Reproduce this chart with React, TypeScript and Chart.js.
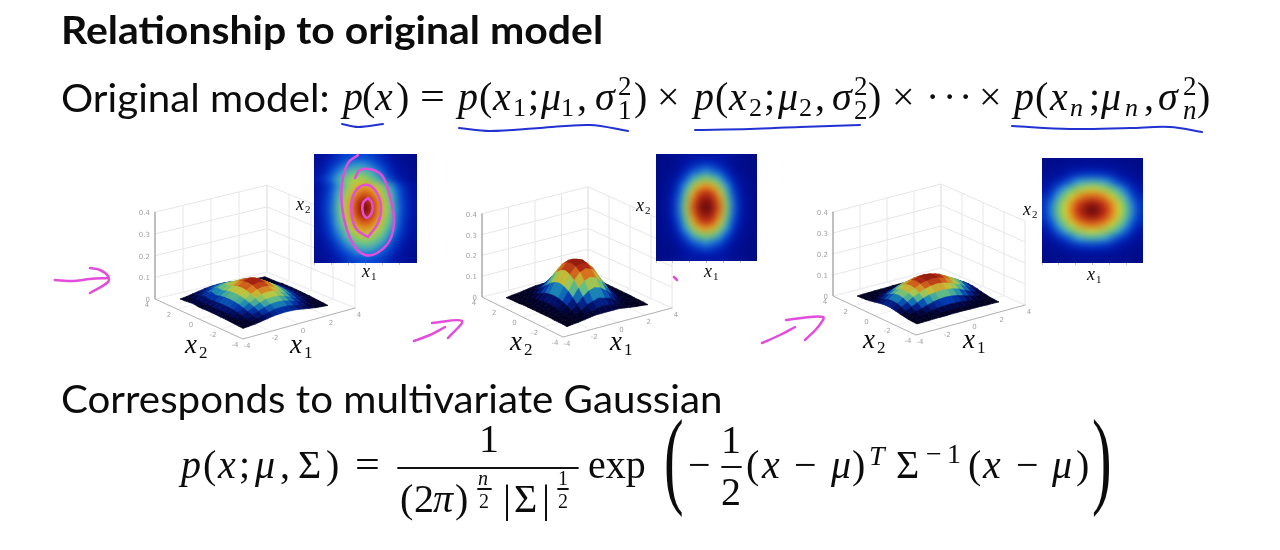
import React, { useEffect, useRef } from "react";
import { Chart, registerables } from "chart.js";
Chart.register(...registerables);

// ---------- values ----------
const Z_TICKS = [0, 0.1, 0.2, 0.3, 0.4];
const AXIS_TICKS = [-4, -2, 0, 2, 4];
const GRID_POS = [-2.8, -2.4, -2, -1.6, -1.2, -0.8, -0.4, 0, 0.4, 0.8, 1.2, 1.6, 2, 2.4, 2.8];

const DENSITY_A = [
  [8, 10, 14, 18, 22, 24, 25, 24, 22, 18, 14, 10, 8, 6, 5],
  [9, 13, 18, 24, 29, 34, 35, 34, 29, 24, 18, 13, 9, 7, 5],
  [11, 15, 23, 31, 39, 45, 47, 45, 39, 31, 23, 15, 11, 8, 6],
  [13, 20, 28, 39, 49, 56, 58, 56, 49, 39, 28, 20, 13, 9, 7],
  [10, 15, 23, 34, 47, 58, 67, 70, 67, 58, 47, 34, 23, 15, 10],
  [10, 16, 26, 39, 53, 66, 77, 81, 77, 66, 53, 39, 26, 16, 10],
  [11, 18, 27, 42, 57, 72, 85, 91, 85, 72, 57, 42, 27, 18, 11],
  [11, 18, 28, 43, 58, 74, 88, 99, 88, 74, 58, 43, 28, 18, 11],
  [11, 18, 27, 42, 57, 72, 85, 91, 85, 72, 57, 42, 27, 18, 11],
  [10, 16, 26, 39, 53, 66, 77, 81, 77, 66, 53, 39, 26, 16, 10],
  [10, 15, 23, 34, 47, 58, 67, 70, 67, 58, 47, 34, 23, 15, 10],
  [9, 13, 20, 28, 39, 49, 56, 58, 56, 49, 39, 28, 20, 13, 9],
  [8, 11, 15, 23, 31, 39, 45, 47, 45, 39, 31, 23, 15, 11, 8],
  [7, 9, 13, 18, 24, 29, 34, 35, 34, 29, 24, 18, 13, 9, 7],
  [6, 8, 10, 14, 18, 22, 24, 25, 24, 22, 18, 14, 10, 8, 6],
];
const DENSITY_B = [
  [3, 5, 6, 8, 10, 12, 12, 12, 12, 12, 10, 8, 6, 5, 3],
  [4, 4, 5, 8, 12, 15, 19, 21, 19, 15, 12, 8, 5, 4, 4],
  [4, 5, 7, 11, 17, 26, 30, 34, 30, 26, 17, 11, 7, 5, 4],
  [4, 6, 9, 15, 26, 39, 49, 53, 49, 39, 26, 15, 9, 6, 4],
  [5, 7, 11, 21, 36, 54, 67, 72, 67, 54, 36, 21, 11, 7, 5],
  [5, 7, 13, 26, 46, 67, 82, 87, 82, 67, 46, 26, 13, 7, 5],
  [5, 8, 15, 29, 52, 76, 90, 94, 90, 76, 52, 29, 15, 8, 5],
  [5, 8, 15, 30, 55, 80, 93, 99, 93, 80, 55, 30, 15, 8, 5],
  [5, 8, 15, 29, 52, 76, 90, 94, 90, 76, 52, 29, 15, 8, 5],
  [5, 7, 13, 26, 46, 67, 82, 87, 82, 67, 46, 26, 13, 7, 5],
  [5, 7, 11, 21, 36, 54, 67, 72, 67, 54, 36, 21, 11, 7, 5],
  [4, 6, 9, 15, 26, 39, 49, 53, 49, 39, 26, 15, 9, 6, 4],
  [4, 5, 7, 11, 17, 26, 30, 34, 30, 26, 17, 11, 7, 5, 4],
  [4, 4, 5, 8, 12, 15, 19, 21, 19, 15, 12, 8, 5, 4, 4],
  [3, 5, 6, 8, 10, 12, 12, 12, 12, 12, 10, 8, 6, 5, 3],
];
const DENSITY_C = [
  [4, 5, 5, 6, 6, 6, 7, 7, 7, 6, 6, 6, 5, 5, 4],
  [5, 6, 7, 8, 10, 11, 11, 12, 11, 11, 10, 8, 7, 6, 5],
  [6, 8, 10, 13, 17, 20, 22, 23, 22, 20, 17, 13, 10, 8, 6],
  [9, 12, 17, 23, 30, 37, 41, 43, 41, 37, 30, 23, 17, 12, 9],
  [12, 18, 28, 38, 49, 56, 59, 61, 59, 56, 49, 38, 28, 18, 12],
  [16, 25, 38, 52, 61, 71, 77, 79, 77, 71, 61, 52, 38, 25, 16],
  [19, 31, 47, 60, 72, 83, 89, 92, 89, 83, 72, 60, 47, 31, 19],
  [20, 33, 50, 62, 76, 87, 94, 99, 94, 87, 76, 62, 50, 33, 20],
  [19, 31, 47, 60, 72, 83, 89, 92, 89, 83, 72, 60, 47, 31, 19],
  [16, 25, 38, 52, 61, 71, 77, 79, 77, 71, 61, 52, 38, 25, 16],
  [12, 18, 28, 38, 49, 56, 59, 61, 59, 56, 49, 38, 28, 18, 12],
  [9, 12, 17, 23, 30, 37, 41, 43, 41, 37, 30, 23, 17, 12, 9],
  [6, 8, 10, 13, 17, 20, 22, 23, 22, 20, 17, 13, 10, 8, 6],
  [5, 6, 7, 8, 10, 11, 11, 12, 11, 11, 10, 8, 7, 6, 5],
  [4, 5, 5, 6, 6, 6, 7, 7, 7, 6, 6, 6, 5, 5, 4],
];

// pen strokes on the slide, in slide pixels
const UNDERLINES = [
  [[342, 124], [358, 127], [383, 124]],
  [[459, 128], [490, 131], [540, 128], [590, 125], [628, 131]],
  [[695, 130], [750, 129], [800, 127], [860, 125]],
  [[1012, 126], [1070, 129], [1130, 128], [1170, 127], [1202, 132]],
];
const PEN_STROKES = [
  [[55, 280], [73, 281], [90, 279], [108, 278]],
  [[90, 268], [100, 270], [108, 276], [108, 282], [90, 293]],
  [[414, 341], [430, 335], [445, 327]],
  [[432, 323], [462, 321], [448, 338]],
  [[762, 343], [780, 335], [795, 327]],
  [[786, 320], [823, 317], [818, 327], [805, 340]],
  [[674, 277], [677, 280]],
  [[358, 155], [348, 163], [342, 183], [342, 207], [347, 230], [355, 247], [365, 255], [377, 253], [390, 240], [394, 220], [390, 197], [383, 177], [373, 170], [360, 170], [355, 178]],
  [[368, 237], [357, 230], [352, 217], [352, 200], [358, 188], [368, 185], [377, 193], [381, 208], [378, 223], [368, 237]],
  [[368, 198], [363, 203], [363, 213], [367, 218], [372, 212], [372, 203], [368, 198]],
];

// ---------- layout ----------
const PLOTS = [
  { L: [155, 299], F: [243, 339], R: [355, 308], B: [267, 272], zPx: 217, sL: [180, 301], sF: [243, 330], sR: [328, 307], peak: 0.12, data: DENSITY_A },
  { L: [482, 297], F: [563, 337], R: [672, 308], B: [588, 270], zPx: 208, sL: [506, 299], sF: [567, 328], sR: [648, 306], peak: 0.21, data: DENSITY_B },
  { L: [833, 296], F: [916, 335], R: [1025, 305], B: [941, 268], zPx: 210, sL: [857, 297], sF: [917, 325], sR: [999, 303], peak: 0.12, data: DENSITY_C },
];
const HEATS = [
  { x: 314, y: 154, w: 103, h: 109, data: DENSITY_A },
  { x: 656, y: 154, w: 101, h: 107, data: DENSITY_B },
  { x: 1042, y: 158, w: 101, h: 105, data: DENSITY_C },
];

const HEAT_STOPS = [[0, 0, 8, 120], [0.12, 0, 20, 165], [0.25, 5, 75, 215], [0.37, 60, 165, 210], [0.5, 110, 200, 120], [0.62, 210, 210, 50], [0.75, 235, 130, 30], [0.87, 190, 40, 20], [1, 85, 5, 10]];
const SURF_STOPS = [[0, 0, 0, 20], [0.12, 0, 0, 45], [0.22, 0, 15, 105], [0.32, 0, 55, 175], [0.42, 25, 135, 180], [0.52, 100, 190, 130], [0.64, 190, 200, 60], [0.76, 220, 120, 30], [0.88, 175, 40, 20], [1, 120, 15, 10]];
function ramp(stops: number[][], t: number) {
  for (let i = 1; i < stops.length; i++) {
    if (t <= stops[i][0]) {
      const a = stops[i - 1], b = stops[i], k = (t - a[0]) / (b[0] - a[0]);
      return `rgb(${[1, 2, 3].map((c) => Math.round(a[c] + (b[c] - a[c]) * k)).join(",")})`;
    }
  }
  const l = stops[stops.length - 1];
  return `rgb(${l[1]},${l[2]},${l[3]})`;
}

const SERIF = '"Liberation Serif"';
const SANS = "Lato";
type Tok = { t: string; x: number; y: number; f: string; c?: string; sx?: number; align?: CanvasTextAlign };
const it = (n: number) => `italic ${n}px ${SERIF}`;
const rm = (n: number) => `${n}px ${SERIF}`;
const B1 = 110, B2 = 478;

const TEXTS: Tok[] = [
  { t: "Relationship to original model", x: 61, y: 44, f: `bold 39px ${SANS}`, sx: 1.05 },
  { t: "Original model:", x: 61, y: 112, f: `39px ${SANS}`, sx: 1.033 },
  { t: "Corresponds to multivariate Gaussian", x: 61, y: 413, f: `39px ${SANS}`, sx: 1.033 },
  // first formula
  { t: "p", x: 343, y: B1, f: it(40) }, { t: "(", x: 362, y: B1, f: rm(40) }, { t: "x", x: 375, y: B1, f: it(40) }, { t: ")", x: 396, y: B1, f: rm(40) },
  { t: "=", x: 420, y: B1, f: rm(40), sx: 1.1 },
  { t: "p", x: 458, y: B1, f: it(40) }, { t: "(", x: 479, y: B1, f: rm(40) }, { t: "x", x: 493, y: B1, f: it(40) }, { t: "1", x: 513, y: 116, f: rm(26) },
  { t: ";", x: 528, y: B1, f: rm(40) }, { t: "μ", x: 541, y: B1, f: it(40) }, { t: "1", x: 561, y: 116, f: rm(26) }, { t: ",", x: 577, y: B1, f: rm(40) },
  { t: "σ", x: 595, y: B1, f: it(40) }, { t: "2", x: 618, y: 95, f: rm(27) }, { t: "1", x: 618, y: 119, f: rm(27) }, { t: ")", x: 634, y: B1, f: rm(40) },
  { t: "×", x: 657, y: B1, f: rm(40) },
  { t: "p", x: 694, y: B1, f: it(40) }, { t: "(", x: 715, y: B1, f: rm(40) }, { t: "x", x: 729, y: B1, f: it(40) }, { t: "2", x: 749, y: 116, f: rm(26) },
  { t: ";", x: 764, y: B1, f: rm(40) }, { t: "μ", x: 778, y: B1, f: it(40) }, { t: "2", x: 799, y: 116, f: rm(26) }, { t: ",", x: 815, y: B1, f: rm(40) },
  { t: "σ", x: 832, y: B1, f: it(40) }, { t: "2", x: 854, y: 95, f: rm(27) }, { t: "2", x: 854, y: 119, f: rm(27) }, { t: ")", x: 868, y: B1, f: rm(40) },
  { t: "×", x: 892, y: B1, f: rm(40) }, { t: "·", x: 926, y: B1, f: rm(40) }, { t: "·", x: 943, y: B1, f: rm(40) }, { t: "·", x: 959, y: B1, f: rm(40) }, { t: "×", x: 979, y: B1, f: rm(40) },
  { t: "p", x: 1014, y: B1, f: it(40) }, { t: "(", x: 1035, y: B1, f: rm(40) }, { t: "x", x: 1050, y: B1, f: it(40) }, { t: "n", x: 1070, y: 116, f: it(26) },
  { t: ";", x: 1089, y: B1, f: rm(40) }, { t: "μ", x: 1101, y: B1, f: it(40) }, { t: "n", x: 1125, y: 116, f: it(26) }, { t: ",", x: 1144, y: B1, f: rm(40) },
  { t: "σ", x: 1158, y: B1, f: it(40) }, { t: "2", x: 1183, y: 95, f: rm(27) }, { t: "n", x: 1183, y: 119, f: it(27) }, { t: ")", x: 1197, y: B1, f: rm(40) },
  // second formula
  { t: "p", x: 181, y: B2, f: it(40) }, { t: "(", x: 203, y: B2, f: rm(40) }, { t: "x", x: 218, y: B2, f: it(40) }, { t: ";", x: 239, y: B2, f: rm(40) },
  { t: "μ", x: 255, y: B2, f: it(40) }, { t: ",", x: 280, y: B2, f: rm(40) }, { t: "Σ", x: 298, y: B2, f: rm(40) }, { t: ")", x: 326, y: B2, f: rm(40) },
  { t: "=", x: 355, y: B2, f: rm(40), sx: 1.1 },
  { t: "1", x: 479, y: 452, f: rm(40) },
  { t: "(", x: 400, y: 512, f: rm(40) }, { t: "2", x: 414, y: 512, f: rm(40) }, { t: "π", x: 433, y: 512, f: it(40) }, { t: ")", x: 455, y: 512, f: rm(40) },
  { t: "n", x: 478, y: 485, f: it(20) }, { t: "2", x: 479, y: 508, f: rm(20) },
  { t: "|", x: 503, y: 512, f: rm(40) }, { t: "Σ", x: 514, y: 512, f: rm(40) }, { t: "|", x: 542, y: 512, f: rm(40) },
  { t: "1", x: 558, y: 485, f: rm(20) }, { t: "2", x: 558, y: 508, f: rm(20) },
  { t: "exp", x: 588, y: B2, f: rm(40) },
  { t: "(", x: 664, y: 494, f: rm(107), sx: 0.55 },
  { t: "−", x: 688, y: B2, f: rm(40) },
  { t: "1", x: 721, y: 453, f: rm(40) }, { t: "2", x: 721, y: 505, f: rm(40) },
  { t: "(", x: 746, y: B2, f: rm(40) }, { t: "x", x: 762, y: B2, f: it(40) }, { t: "−", x: 794, y: B2, f: rm(40) }, { t: "μ", x: 831, y: B2, f: it(40) }, { t: ")", x: 852, y: B2, f: rm(40) },
  { t: "T", x: 869, y: 465, f: it(28) }, { t: "Σ", x: 896, y: B2, f: rm(40) }, { t: "−", x: 926, y: 463, f: rm(28) }, { t: "1", x: 947, y: 463, f: rm(28) },
  { t: "(", x: 968, y: B2, f: rm(40) }, { t: "x", x: 983, y: B2, f: it(40) }, { t: "−", x: 1016, y: B2, f: rm(40) }, { t: "μ", x: 1052, y: B2, f: it(40) }, { t: ")", x: 1076, y: B2, f: rm(40) },
  { t: ")", x: 1092, y: 494, f: rm(107), sx: 0.55 },
  // axis names
  { t: "x", x: 185, y: 353, f: it(27) }, { t: "2", x: 199, y: 358, f: rm(17) },
  { t: "x", x: 290, y: 353, f: it(27) }, { t: "1", x: 304, y: 358, f: rm(17) },
  { t: "x", x: 510, y: 350, f: it(27) }, { t: "2", x: 524, y: 355, f: rm(17) },
  { t: "x", x: 610, y: 350, f: it(27) }, { t: "1", x: 624, y: 355, f: rm(17) },
  { t: "x", x: 863, y: 348, f: it(27) }, { t: "2", x: 877, y: 353, f: rm(17) },
  { t: "x", x: 963, y: 348, f: it(27) }, { t: "1", x: 977, y: 353, f: rm(17) },
  { t: "x", x: 296, y: 210, f: it(18) }, { t: "2", x: 305, y: 213, f: rm(11) },
  { t: "x", x: 362, y: 277, f: it(18) }, { t: "1", x: 371, y: 280, f: rm(11) },
  { t: "x", x: 636, y: 211, f: it(18) }, { t: "2", x: 645, y: 214, f: rm(11) },
  { t: "x", x: 704, y: 277, f: it(18) }, { t: "1", x: 713, y: 280, f: rm(11) },
  { t: "x", x: 1023, y: 215, f: it(18) }, { t: "2", x: 1032, y: 218, f: rm(11) },
  { t: "x", x: 1087, y: 280, f: it(18) }, { t: "1", x: 1096, y: 283, f: rm(11) },
];
const RULES = [
  [[398, 468], [578, 468]],
  [[722, 467], [741, 467]],
  [[478, 489], [491, 489]],
  [[558, 489], [568, 489]],
];

const mix = (a: number[], b: number[], t: number) => [a[0] + (b[0] - a[0]) * t, a[1] + (b[1] - a[1]) * t];
const line = (pts: number[][], color: string, width: number, tension = 0) => ({
  data: pts.map(([x, y]) => ({ x, y })), showLine: true, pointRadius: 0, borderColor: color, borderWidth: width, fill: false, tension, borderCapStyle: "round", borderJoinStyle: "round",
});
const pageScales = {
  x: { type: "linear", min: 0, max: 1280, display: false },
  y: { type: "linear", min: 0, max: 550, reverse: true, display: false },
};
const baseOptions = {
  responsive: false, animation: false, events: [],
  layout: { padding: 0, autoPadding: false },
  plugins: { legend: { display: false }, tooltip: { enabled: false } },
};

function plotDatasets(p: (typeof PLOTS)[number]) {
  const out: any[] = [];
  const GRID = "#e6e6e6";
  const up = (q: number[], z: number) => [q[0], q[1] - z * p.zPx];
  const topZ = Z_TICKS[Z_TICKS.length - 1];
  for (const z of Z_TICKS) {
    out.push(line([up(p.L, z), up(p.B, z), up(p.R, z)], GRID, 1));
  }
  for (const tick of AXIS_TICKS) {
    const t = (tick + 4) / 8;
    const a = mix(p.L, p.B, t), b = mix(p.B, p.R, t);
    out.push(line([a, up(a, topZ)], GRID, 1));
    out.push(line([b, up(b, topZ)], GRID, 1));
    out.push(line([mix(p.L, p.F, t), mix(p.B, p.R, t)], "#efefef", 1));
    out.push(line([mix(p.F, p.R, t), mix(p.L, p.B, t)], "#efefef", 1));
  }
  out.push(line([p.L, up(p.L, topZ)], "#8c8c8c", 1));
  out.push(line([p.L, p.F, p.R], "#b4b4b4", 1));
  const n = p.data.length - 1;
  const vert = (c: number, r: number) => {
    const u = c / n, v = 1 - r / n, h = (p.data[r][c] / 100) * p.peak * p.zPx;
    return [p.sF[0] + (p.sR[0] - p.sF[0]) * u + (p.sL[0] - p.sF[0]) * v, p.sF[1] + (p.sR[1] - p.sF[1]) * u + (p.sL[1] - p.sF[1]) * v - h];
  };
  const quads: { k: number; r: number; c: number }[] = [];
  for (let r = 0; r < n; r++) for (let c = 0; c < n; c++) quads.push({ k: c + (n - r), r, c });
  quads.sort((a, b) => b.k - a.k);
  for (const { r, c } of quads) {
    const v = (p.data[r][c] + p.data[r + 1][c] + p.data[r][c + 1] + p.data[r + 1][c + 1]) / 400;
    const col = ramp(SURF_STOPS, v);
    out.push({
      data: [vert(c, r), vert(c + 1, r), vert(c + 1, r + 1), vert(c, r + 1), vert(c, r)].map(([x, y]) => ({ x, y })),
      showLine: true, pointRadius: 0, borderColor: col, backgroundColor: col, borderWidth: 0.7, fill: "shape",
    });
  }
  // Chart.js paints the first dataset last, so the list runs front to back
  return out.reverse();
}

function plotTicks(p: (typeof PLOTS)[number]): Tok[] {
  const out: Tok[] = [];
  const f = `7px "DejaVu Sans"`, c = "#a0a0a0";
  for (const z of Z_TICKS) out.push({ t: String(z), x: p.L[0] - 5, y: p.L[1] - z * p.zPx + 3, f, c, align: "right" });
  for (const tick of AXIS_TICKS) {
    const t = (tick + 4) / 8;
    const a = mix(p.F, p.L, t), b = mix(p.F, p.R, t);
    out.push({ t: String(tick), x: a[0] - 8, y: a[1] + 8, f, c, align: "center" });
    out.push({ t: String(tick), x: b[0] + 4, y: b[1] + 9, f, c, align: "center" });
  }
  return out;
}

const textPlugin = {
  id: "slideText",
  afterDraw(chart: any) {
    const ctx = chart.ctx as CanvasRenderingContext2D;
    const all = [...TEXTS, ...PLOTS.flatMap(plotTicks)];
    ctx.save();
    ctx.textBaseline = "alphabetic";
    for (const k of all) {
      ctx.font = k.f;
      ctx.fillStyle = k.c || "#0c0c0c";
      ctx.textAlign = k.align || "left";
      if (k.sx) {
        ctx.save();
        ctx.translate(k.x, k.y);
        ctx.scale(k.sx, 1);
        ctx.fillText(k.t, 0, 0);
        ctx.restore();
      } else ctx.fillText(k.t, k.x, k.y);
    }
    ctx.restore();
  },
};

const heatPlugin = {
  id: "heatBlur",
  beforeDatasetsDraw(chart: any) {
    const a = chart.chartArea, ctx = chart.ctx;
    ctx.save();
    ctx.fillStyle = "#00087d";
    ctx.fillRect(a.left, a.top, a.right - a.left, a.bottom - a.top);
    ctx.restore();
  },
  afterDatasetsDraw(chart: any) {
    const a = chart.chartArea, ctx = chart.ctx;
    ctx.save();
    ctx.beginPath();
    ctx.rect(a.left, a.top, a.right - a.left, a.bottom - a.top);
    ctx.clip();
    ctx.filter = "blur(3px)";
    ctx.drawImage(chart.canvas, 0, 0, chart.width, chart.height);
    ctx.restore();
  },
};

const AXIS_PAD = 8;

export default function App() {
  const backRef = useRef<HTMLCanvasElement>(null);
  const topRef = useRef<HTMLCanvasElement>(null);
  const heatRefs = [useRef<HTMLCanvasElement>(null), useRef<HTMLCanvasElement>(null), useRef<HTMLCanvasElement>(null)];

  useEffect(() => {
    const charts: Chart[] = [];
    charts.push(new Chart(backRef.current!, {
      type: "scatter",
      data: { datasets: PLOTS.flatMap(plotDatasets) as any },
      options: { ...baseOptions, scales: pageScales } as any,
    }));
    HEATS.forEach((h, idx) => {
      const pts: any[] = [];
      h.data.forEach((row, r) => row.forEach((v, c) => pts.push({ x: GRID_POS[c], y: GRID_POS[GRID_POS.length - 1 - r], v })));
      charts.push(new Chart(heatRefs[idx].current!, {
        type: "scatter",
        data: {
          datasets: [{
            data: pts, clip: 0, pointStyle: "rect", pointRadius: 5.6, pointBorderWidth: 0,
            pointBackgroundColor: (c: any) => ramp(HEAT_STOPS, c.raw.v / 100),
          }] as any,
        },
        options: {
          ...baseOptions,
          scales: {
            x: {
              type: "linear", min: -3, max: 3,
              afterFit: (s: any) => { s.height = AXIS_PAD; },
              ticks: { stepSize: 1, display: false },
              grid: { drawOnChartArea: false, tickLength: 2, color: "#c4c4c4" },
              border: { display: false },
            },
            y: { type: "linear", min: -3, max: 3, display: false },
          },
        } as any,
        plugins: [heatPlugin],
      }));
    });
    const top: any[] = [
      ...RULES.map((s) => line(s, "#111", 1.8)),
      ...UNDERLINES.map((s) => line(s, "#2232d2", 2, 0.35)),
      ...PEN_STROKES.map((s) => line(s, "#e24ddc", 2.5, 0.35)),
    ];
    charts.push(new Chart(topRef.current!, {
      type: "scatter",
      data: { datasets: top },
      options: { ...baseOptions, scales: pageScales } as any,
      plugins: [textPlugin],
    }));
    return () => charts.forEach((c) => c.destroy());
  }, []);

  const abs: React.CSSProperties = { position: "absolute", left: 0, top: 0 };
  return (
    <div style={{ position: "fixed", left: 0, top: 0, width: 1280, height: 550, overflow: "hidden", background: "#fff", filter: "blur(0.45px)" }}>
      <canvas ref={backRef} width={1280} height={550} style={abs} />
      {HEATS.map((h, i) => (
        <canvas key={i} ref={heatRefs[i]} width={h.w} height={h.h + AXIS_PAD} style={{ position: "absolute", left: h.x, top: h.y }} />
      ))}
      <canvas ref={topRef} width={1280} height={550} style={abs} />
    </div>
  );
}
